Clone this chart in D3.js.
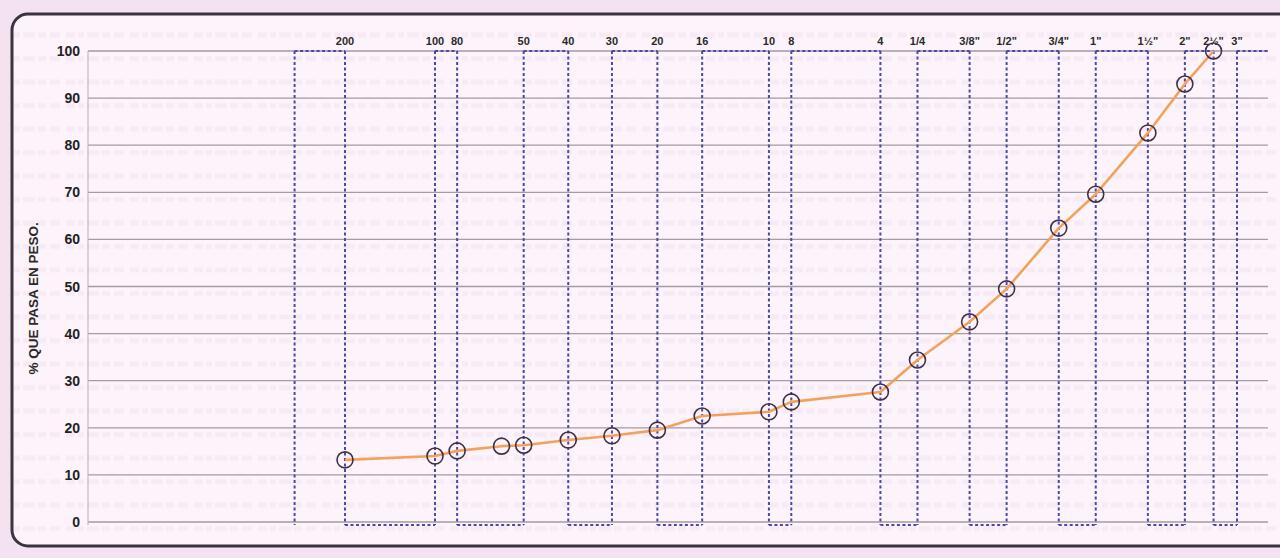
<!DOCTYPE html>
<html>
<head>
<meta charset="utf-8">
<script src="https://cdn.jsdelivr.net/npm/d3@7"></script>
<style>
  html, body { margin: 0; padding: 0; background: #f5e4f1; }
  svg { display: block; }
</style>
</head>
<body>
<svg id="chart" width="1280" height="558"></svg>
<script>
// Sieve openings (mm) with their labels along the top edge
const sieveLabels = ["200", "100", "80", "50", "40", "30", "20", "16", "10", "8", "4",
  "1/4", "3/8\"", "1/2\"", "3/4\"", "1\"", "1½\"", "2\"", "2½\"", "3\""];
const sieveSizes = [0.074, 0.149, 0.177, 0.297, 0.42, 0.59, 0.84, 1.19, 2.0, 2.38, 4.76,
  6.35, 9.525, 12.7, 19.05, 25.4, 38.1, 50.8, 63.5, 76.2];
// Left edge of the first sieve frame (no label)
const frameStart = [0.05];

// Grading curve: opening (mm) and percent passing by weight
const sampleSizes = [0.074, 0.149, 0.177, 0.25, 0.297, 0.42, 0.59, 0.84, 1.19, 2.0, 2.38, 4.76,
  6.35, 9.525, 12.7, 19.05, 25.4, 38.1, 50.8, 63.5];
const percentPassing = [13.2, 14.0, 15.1, 16.1, 16.3, 17.4, 18.3, 19.5, 22.5, 23.4, 25.5, 27.6,
  34.4, 42.5, 49.5, 62.4, 69.6, 82.6, 93.0, 100];

const yTicks = [0, 10, 20, 30, 40, 50, 60, 70, 80, 90, 100];

const svg = d3.select("#chart");
const plotLeft = 88, plotRight = 1268;

const x = d3.scaleLog().domain([0.074, 76.2]).range([345, 1237]);
const y = d3.scaleLinear().domain([0, 100]).range([522, 51]);

// faint rows of the security paper
const defs = svg.append("defs");
const pat = defs.append("pattern").attr("id", "paper").attr("patternUnits", "userSpaceOnUse")
  .attr("width", 64).attr("height", 23.5);
pat.append("rect").attr("width", 64).attr("height", 23.5).attr("fill", "#fcf4fa");
[[2, 9], [14, 6], [23, 12], [38, 8], [50, 10]].forEach(([px, w]) => {
  pat.append("rect").attr("x", px).attr("y", 9).attr("width", w).attr("height", 5)
    .attr("fill", "#ecd6ea").attr("opacity", 0.3);
});

// outer frame
svg.append("rect").attr("x", 0).attr("y", 0).attr("width", 1280).attr("height", 558)
  .attr("fill", "#f4e2f0");
svg.append("rect").attr("x", 12).attr("y", 14).attr("width", 1290).attr("height", 532)
  .attr("rx", 16).attr("fill", "url(#paper)")
  .attr("stroke", "#3b3440").attr("stroke-width", 3);

// horizontal grid
const g = svg.append("g");
g.selectAll("line.grid").data(yTicks).join("line")
  .attr("class", "grid")
  .attr("x1", plotLeft).attr("x2", plotRight)
  .attr("y1", d => y(d)).attr("y2", d => y(d))
  .attr("stroke", "#a59aa6").attr("stroke-width", 1.3);
g.append("line").attr("x1", plotLeft).attr("x2", plotLeft)
  .attr("y1", y(100)).attr("y2", y(0) + 3)
  .attr("stroke", "#b8adb8").attr("stroke-width", 1);

// y tick labels
g.selectAll("text.ytick").data(yTicks).join("text")
  .attr("class", "ytick")
  .attr("x", 80).attr("y", d => y(d)).attr("dy", "0.36em")
  .attr("text-anchor", "end")
  .attr("font-family", "Arial, 'Liberation Sans', sans-serif")
  .attr("font-weight", "bold").attr("font-size", 14).attr("fill", "#222")
  .text(d => d);

// y axis title
svg.append("text")
  .attr("transform", `translate(38,${y(47.5)}) rotate(-90)`)
  .attr("text-anchor", "middle")
  .attr("font-family", "Arial, 'Liberation Sans', sans-serif")
  .attr("font-weight", "bold").attr("font-size", 13.5).attr("fill", "#2a2a2a")
  .text("% QUE PASA EN PESO.");

// sieve frames: verticals joined alternately at top and bottom
const frames = frameStart.concat(sieveSizes);
const dashStyle = sel => sel.attr("stroke", "#4d47a8").attr("stroke-width", 2)
  .attr("stroke-dasharray", "3,2.5").attr("fill", "none");
const sv = svg.append("g");
sv.selectAll("line.v").data(frames).join("line")
  .attr("class", "v")
  .attr("x1", d => x(d)).attr("x2", d => x(d))
  .attr("y1", y(100)).attr("y2", y(0) + 3)
  .call(dashStyle);
const pairs = d3.pairs(frames).map((p, i) => ({ a: p[0], b: p[1], top: i % 2 === 0 }));
sv.selectAll("line.h").data(pairs).join("line")
  .attr("class", "h")
  .attr("x1", d => x(d.a)).attr("x2", d => x(d.b))
  .attr("y1", d => d.top ? y(100) : y(0) + 3).attr("y2", d => d.top ? y(100) : y(0) + 3)
  .call(dashStyle);
sv.append("line")
  .attr("x1", x(sieveSizes[sieveSizes.length - 1])).attr("x2", plotRight)
  .attr("y1", y(100)).attr("y2", y(100))
  .call(dashStyle);

// sieve labels
svg.append("g").selectAll("text").data(sieveSizes).join("text")
  .attr("x", d => x(d)).attr("y", 45)
  .attr("text-anchor", "middle")
  .attr("font-family", "Arial, 'Liberation Sans', sans-serif")
  .attr("font-weight", "bold").attr("font-size", 11).attr("fill", "#2a2a2a")
  .text((d, i) => sieveLabels[i]);

// grading curve
const pts = sampleSizes.map((s, i) => [s, percentPassing[i]]);
svg.append("path")
  .datum(pts)
  .attr("d", d3.line().x(d => x(d[0])).y(d => y(d[1])))
  .attr("fill", "none").attr("stroke", "#f2a25c").attr("stroke-width", 2.6)
  .attr("stroke-linejoin", "round");
svg.append("g").selectAll("circle").data(pts).join("circle")
  .attr("cx", d => x(d[0])).attr("cy", d => y(d[1])).attr("r", 8)
  .attr("fill", "none").attr("stroke", "#3e3049").attr("stroke-width", 1.6);
</script>
</body>
</html>
